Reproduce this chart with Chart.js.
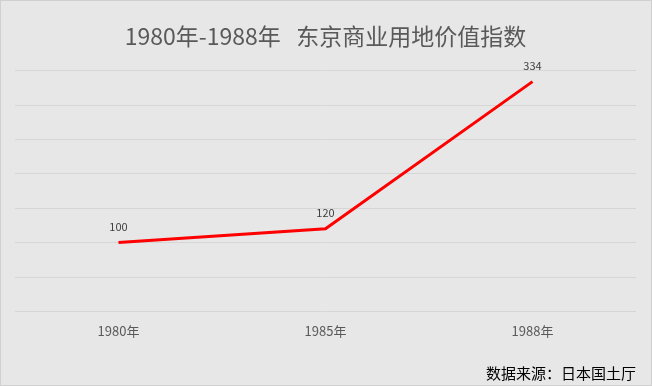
<!DOCTYPE html>
<html>
<head>
<meta charset="utf-8">
<script src="https://cdn.jsdelivr.net/npm/chart.js@4/dist/chart.umd.min.js"></script>
<style>
html,body{margin:0;padding:0;background:#e7e7e7;}
#wrap{width:652px;height:386px;position:relative;}
</style>
</head>
<body>
<div id="wrap"><canvas id="c" width="652" height="386"></canvas></div>
<script>
const categories = ['1980年', '1985年', '1988年'];
const indexValues = [100, 120, 334];
const titleText = '1980年-1988年   东京商业用地价值指数';
const sourceText = '数据来源：日本国土厅';

const FONT = '"Noto Sans CJK SC", "Noto Sans", sans-serif';

const bgPlugin = {
  id: 'bg',
  beforeDraw(chart) {
    const ctx = chart.ctx;
    ctx.save();
    ctx.fillStyle = '#e7e7e7';
    ctx.fillRect(0, 0, chart.width, chart.height);
    ctx.strokeStyle = '#d0d0d0';
    ctx.lineWidth = 1;
    ctx.strokeRect(0.5, 0.5, chart.width - 1, chart.height - 1);
    ctx.restore();
  }
};

const labelPlugin = {
  id: 'pointLabels',
  afterDatasetsDraw(chart) {
    const ctx = chart.ctx;
    const meta = chart.getDatasetMeta(0);
    ctx.save();
    ctx.font = '11px ' + FONT;
    ctx.fillStyle = '#404040';
    ctx.textAlign = 'center';
    ctx.textBaseline = 'middle';
    meta.data.forEach((pt, i) => {
      ctx.fillText(String(indexValues[i]), pt.x, pt.y - 16);
    });
    ctx.restore();
  }
};

new Chart(document.getElementById('c'), {
  type: 'line',
  data: {
    labels: categories,
    datasets: [{
      data: indexValues,
      borderColor: '#ff0000',
      borderWidth: 3,
      pointRadius: 0,
      pointHoverRadius: 0,
      tension: 0,
      fill: false
    }]
  },
  options: {
    responsive: false,
    animation: false,
    devicePixelRatio: 1,
    layout: { padding: { left: 15, right: 16, top: 0, bottom: 0 } },
    plugins: {
      legend: { display: false },
      tooltip: { enabled: false },
      title: {
        display: true,
        text: titleText,
        color: '#595959',
        font: { family: FONT, size: 23, weight: 'normal' },
        padding: { top: 22, bottom: 21 }
      },
      subtitle: {
        display: true,
        text: sourceText,
        position: 'bottom',
        align: 'end',
        color: '#000000',
        font: { family: FONT, size: 15, weight: 'normal' },
        padding: { top: 13, bottom: 4 }
      }
    },
    scales: {
      x: {
        offset: true,
        grid: { display: false, drawTicks: false },
        border: { display: false },
        ticks: { color: '#595959', font: { family: FONT, size: 13 }, padding: 12 }
      },
      y: {
        min: 0,
        max: 350,
        ticks: { display: false, stepSize: 50 },
        grid: { color: '#d6d6d6', lineWidth: 1, drawTicks: false },
        border: { display: false }
      }
    }
  },
  plugins: [bgPlugin, labelPlugin]
});
</script>
</body>
</html>
